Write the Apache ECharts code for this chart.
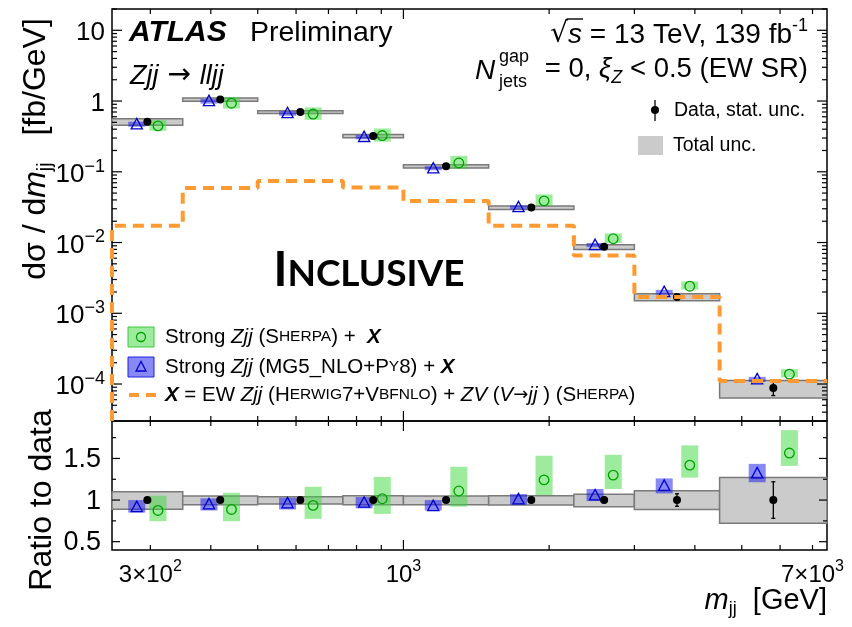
<!DOCTYPE html>
<html>
<head>
<meta charset="utf-8">
<script src="https://cdn.jsdelivr.net/npm/echarts@6.0.0/dist/echarts.min.js"></script>
<style>
  html, body { margin: 0; padding: 0; background: #fff; }
  #chart { width: 852px; height: 627px; }
</style>
</head>
<body>
<div id="chart"></div>
<script>
// ---- measurement: dσ/dm_jj in bins of m_jj ----
// bin edges [GeV]
const binEdges = [250, 350, 500, 750, 1000, 1500, 2250, 3000, 4500, 7500];
// unfolded data [fb/GeV]
const dataValues = [0.51, 1.05, 0.70, 0.32, 0.12, 0.0312, 0.0087, 0.0017, 0.000088];
// relative statistical uncertainty of the data
const statUnc = [0.012, 0.010, 0.010, 0.012, 0.015, 0.020, 0.030, 0.075, 0.22];
// relative total uncertainty (up / down)
const totalUncUp = [0.10, 0.048, 0.040, 0.052, 0.048, 0.052, 0.069, 0.112, 0.27];
const totalUncDown = [0.11, 0.056, 0.048, 0.056, 0.057, 0.060, 0.081, 0.113, 0.28];

// Strong Zjj (Sherpa) + X : ratio to data, central and band
const sherpaRatio = [0.875, 0.887, 0.936, 1.016, 1.109, 1.242, 1.30, 1.42, 1.565];
const sherpaLow = [0.746, 0.746, 0.774, 0.834, 0.92, 1.06, 1.133, 1.27, 1.41];
const sherpaHigh = [1.052, 1.088, 1.16, 1.278, 1.40, 1.532, 1.544, 1.657, 1.84];

// Strong Zjj (MG5_NLO+Py8) + X : ratio to data, central and band
const mg5Ratio = [0.915, 0.948, 0.96, 0.967, 0.927, 1.008, 1.055, 1.17, 1.32];
const mg5Low = [0.85, 0.875, 0.887, 0.90, 0.875, 0.944, 0.988, 1.08, 1.214];
const mg5High = [1.0, 1.02, 1.028, 1.036, 1.0, 1.073, 1.133, 1.26, 1.435];

// X = EW Zjj + ZV prediction [fb/GeV]
const ewValues = [0.0172, 0.059, 0.074, 0.0598, 0.0385, 0.0172, 0.00655, 0.0017, 0.00011];

// ---- axes ----
const X_MIN = 250, X_MAX = 7500;
const Y_MIN = 3e-5, Y_MAX = 20;
const R_MIN = 0.4, R_MAX = 1.95;

const xTickValues = [300, 400, 500, 600, 700, 800, 900, 1000, 2000, 3000, 4000, 5000, 6000, 7000];
const xMajorTicks = [1000];
const xLabelValues = [300, 1000, 7000];
const xLabelTexts = ['{b|3×10}{sup|2}', '{b|10}{sup|3}', '{b|7×10}{sup|3}'];

const yMajorTicks = [1e-4, 1e-3, 1e-2, 1e-1, 1, 10];
const yLabelTexts = ['{b|10}{sup|−4}', '{b|10}{sup|−3}', '{b|10}{sup|−2}', '{b|10}{sup|−1}', '{b|1}', '{b|10}'];

const rTickValues = [0.5, 0.75, 1, 1.25, 1.5, 1.75];
const rMajorTicks = [0.5, 1, 1.5];
const rLabelTexts = ['0.5', '1', '1.5'];

// ticks of the log y axis: 1..9 x 10^n inside the range
const yTickValues = [];
for (let e = -5; e <= 1; e++) {
  for (let k = 1; k <= 9; k++) {
    const v = k * Math.pow(10, e);
    if (v >= Y_MIN && v <= Y_MAX) yTickValues.push(v);
  }
}

const FONT = '"Liberation Sans", Arial, Helvetica, sans-serif';
const SYM_FONT = '"DejaVu Sans", sans-serif';
const GREEN_FILL = 'rgba(60,215,60,0.5)';
const GREEN_LINE = '#00a000';
const BLUE_FILL = 'rgba(20,20,235,0.5)';
const BLUE_LINE = '#0000d0';
const GREY_FILL = '#cbcbcb';
const GREY_LINE = '#7a7a7a';
const ORANGE = '#ff9a33';
const BAND_W = 17;

const logLo = i => Math.log10(binEdges[i]);
const logHi = i => Math.log10(binEdges[i + 1]);
const logCenter = i => (logLo(i) + logHi(i)) / 2;
const logWidth = i => logHi(i) - logLo(i);
// data at the bin centre (log), predictions shifted left/right inside the bin
const xData = i => Math.pow(10, logCenter(i));
const xMg5 = i => Math.pow(10, logCenter(i) - 0.15 * logWidth(i));
const xSherpa = i => Math.pow(10, logCenter(i) + 0.15 * logWidth(i));

const bins = dataValues.map((v, i) => [xData(i), v]);
const ratioBins = dataValues.map((v, i) => [xData(i), 1]);

const supRich = (size) => ({
  b: { fontSize: size, fontFamily: FONT, lineHeight: size + 4, verticalAlign: 'bottom' },
  sup: { fontSize: Math.round(size * 0.68), fontFamily: FONT, lineHeight: Math.round(size * 0.6), verticalAlign: 'top' }
});

// text width helper, used to place the bar of the square root
const measureCtx = document.createElement('canvas').getContext('2d');
function textWidth(str, font) { measureCtx.font = font; return measureCtx.measureText(str).width; }

function ln(x1, y1, x2, y2, w, c) {
  return { type: 'line', shape: { x1, y1, x2, y2 }, style: { stroke: c || '#000', lineWidth: w || 1.2 } };
}

// ---- render helpers ----
function greyBox(i, api, lo, hi) {
  const p0 = api.coord([binEdges[i], hi]);
  const p1 = api.coord([binEdges[i + 1], lo]);
  return {
    type: 'rect',
    shape: { x: p0[0], y: p0[1], width: p1[0] - p0[0], height: p1[1] - p0[1] },
    style: { fill: GREY_FILL, stroke: GREY_LINE, lineWidth: 1.5 }
  };
}

function band(x, lo, hi, api, fill) {
  const p0 = api.coord([x, hi]);
  const p1 = api.coord([x, lo]);
  return {
    type: 'rect',
    shape: { x: p0[0] - BAND_W / 2, y: p0[1], width: BAND_W, height: p1[1] - p0[1] },
    style: { fill: fill, stroke: null }
  };
}

function circleMark(x, y, api) {
  const p = api.coord([x, y]);
  return { type: 'circle', shape: { cx: p[0], cy: p[1], r: 4.8 }, style: { fill: 'none', stroke: GREEN_LINE, lineWidth: 1.3 } };
}

function triMark(x, y, api) {
  const p = api.coord([x, y]);
  return {
    type: 'polygon',
    shape: { points: [[p[0], p[1] - 6], [p[0] - 5.6, p[1] + 4.4], [p[0] + 5.6, p[1] + 4.4]] },
    style: { fill: 'none', stroke: BLUE_LINE, lineWidth: 1.3 }
  };
}

function dataMark(x, y, dy, api) {
  const p = api.coord([x, y]);
  const pu = api.coord([x, y + dy]);
  const pd = api.coord([x, y - dy]);
  const children = [];
  if (pd[1] - pu[1] > 9) {
    children.push(ln(p[0], pu[1], p[0], pd[1], 1.3));
    children.push(ln(p[0] - 2, pu[1], p[0] + 2, pu[1], 1.3));
    children.push(ln(p[0] - 2, pd[1], p[0] + 2, pd[1], 1.3));
  }
  children.push({ type: 'circle', shape: { cx: p[0], cy: p[1], r: 4 }, style: { fill: '#000' } });
  return { type: 'group', children };
}

// ---- EW prediction as a step histogram ----
const ewSteps = [[binEdges[0], Y_MIN]];
ewValues.forEach((v, i) => {
  ewSteps.push([binEdges[i], v]);
  ewSteps.push([binEdges[i + 1], v]);
});

// ---- tick marks ----
function xTicks(yLo, yHi, withLabels) {
  return function (params, api) {
    const v = xTickValues[params.dataIndex];
    const major = xMajorTicks.indexOf(v) >= 0;
    const len = major ? 10 : 5;
    const b = api.coord([v, yLo]);
    const t = api.coord([v, yHi]);
    const children = [ln(b[0], b[1], b[0], b[1] - len, 1.2), ln(t[0], t[1], t[0], t[1] + len, 1.2)];
    const li = xLabelValues.indexOf(v);
    if (withLabels && li >= 0) {
      children.push({
        type: 'text',
        style: {
          x: b[0], y: b[1] + 9, text: xLabelTexts[li], rich: supRich(24),
          fill: '#000', align: 'center', verticalAlign: 'top', textAlign: 'center', textVerticalAlign: 'top'
        }
      });
    }
    return { type: 'group', children };
  };
}

function yTicksMain(params, api) {
  const v = yTickValues[params.dataIndex];
  const mi = yMajorTicks.findIndex(m => Math.abs(m - v) / v < 1e-6);
  const len = mi >= 0 ? 10 : 5;
  const l = api.coord([X_MIN, v]);
  const r = api.coord([X_MAX, v]);
  const children = [ln(l[0], l[1], l[0] + len, l[1], 1.2), ln(r[0], r[1], r[0] - len, r[1], 1.2)];
  if (mi >= 0) {
    children.push({
      type: 'text',
      style: {
        x: l[0] - 7, y: l[1] + 1, text: yLabelTexts[mi], rich: supRich(26),
        fill: '#000', align: 'right', verticalAlign: 'middle', textAlign: 'right', textVerticalAlign: 'middle'
      }
    });
  }
  return { type: 'group', children };
}

function yTicksRatio(params, api) {
  const v = rTickValues[params.dataIndex];
  const mi = rMajorTicks.indexOf(v);
  const len = mi >= 0 ? 8 : 4;
  const l = api.coord([X_MIN, v]);
  const r = api.coord([X_MAX, v]);
  const children = [ln(l[0], l[1], l[0] + len, l[1], 1.2), ln(r[0], r[1], r[0] - len, r[1], 1.2)];
  if (mi >= 0) {
    children.push({
      type: 'text',
      style: {
        x: l[0] - 11, y: l[1] + 1, text: rLabelTexts[mi], fontSize: 27, fontFamily: FONT,
        fill: '#000', align: 'right', verticalAlign: 'middle', textAlign: 'right', textVerticalAlign: 'middle'
      }
    });
  }
  return { type: 'group', children };
}

const hiddenAxis = {
  axisLine: { show: false }, axisTick: { show: false }, axisLabel: { show: false }, splitLine: { show: false }
};

const legendRich = {
  n: { fontSize: 20.5, fontFamily: FONT },
  i: { fontSize: 20.5, fontFamily: FONT, fontStyle: 'italic' },
  s: { fontSize: 15.5, fontFamily: FONT },
  a: { fontSize: 18, fontFamily: SYM_FONT },
  x: { fontSize: 20.5, fontFamily: FONT, fontStyle: 'italic', fontWeight: 'bold' }
};

// position of the bar over "s" in the centre-of-mass energy label
const ENERGY_RIGHT = 808;
const wRoot = textWidth('√', '28px ' + SYM_FONT);
const wS = textWidth('s', 'italic 28px ' + FONT);
const wRest = textWidth(' = 13 TeV, 139 fb', '28px ' + FONT);
const wSup = textWidth('-1', '18px ' + FONT);
const energyLeft = ENERGY_RIGHT - (wRoot + wS + wRest + wSup);

const option = {
  animation: false,
  backgroundColor: '#fff',
  grid: [
    { left: 112, top: 9, width: 715, height: 412, show: true, borderColor: '#000', borderWidth: 1.5, backgroundColor: 'transparent' },
    { left: 112, top: 421, width: 715, height: 129, show: true, borderColor: '#000', borderWidth: 1.5, backgroundColor: 'transparent' }
  ],
  xAxis: [
    Object.assign({ type: 'log', gridIndex: 0, min: X_MIN, max: X_MAX }, hiddenAxis),
    Object.assign({ type: 'log', gridIndex: 1, min: X_MIN, max: X_MAX }, hiddenAxis)
  ],
  yAxis: [
    Object.assign({ type: 'log', gridIndex: 0, min: Y_MIN, max: Y_MAX }, hiddenAxis),
    Object.assign({ type: 'value', gridIndex: 1, min: R_MIN, max: R_MAX }, hiddenAxis)
  ],
  series: [
    // ---------- main panel ----------
    {
      name: 'Total unc.', type: 'custom', xAxisIndex: 0, yAxisIndex: 0, data: bins,
      renderItem: (p, api) => {
        const i = p.dataIndex, d = dataValues[i];
        return greyBox(i, api, d * (1 - totalUncDown[i]), d * (1 + totalUncUp[i]));
      }
    },
    {
      name: 'EW', type: 'line', xAxisIndex: 0, yAxisIndex: 0, data: ewSteps,
      showSymbol: false, symbol: 'none', clip: false,
      lineStyle: { color: ORANGE, width: 4, type: [11, 7] }
    },
    {
      name: 'Sherpa band', type: 'custom', xAxisIndex: 0, yAxisIndex: 0, data: bins,
      renderItem: (p, api) => {
        const i = p.dataIndex, d = dataValues[i];
        return band(xSherpa(i), d * sherpaLow[i], d * sherpaHigh[i], api, GREEN_FILL);
      }
    },
    {
      name: 'MG5 band', type: 'custom', xAxisIndex: 0, yAxisIndex: 0, data: bins,
      renderItem: (p, api) => {
        const i = p.dataIndex, d = dataValues[i];
        return band(xMg5(i), d * mg5Low[i], d * mg5High[i], api, BLUE_FILL);
      }
    },
    {
      name: 'Sherpa', type: 'custom', xAxisIndex: 0, yAxisIndex: 0, data: bins,
      renderItem: (p, api) => circleMark(xSherpa(p.dataIndex), dataValues[p.dataIndex] * sherpaRatio[p.dataIndex], api)
    },
    {
      name: 'MG5', type: 'custom', xAxisIndex: 0, yAxisIndex: 0, data: bins,
      renderItem: (p, api) => triMark(xMg5(p.dataIndex), dataValues[p.dataIndex] * mg5Ratio[p.dataIndex], api)
    },
    {
      name: 'Data', type: 'custom', xAxisIndex: 0, yAxisIndex: 0, data: bins,
      renderItem: (p, api) => {
        const i = p.dataIndex;
        return dataMark(xData(i), dataValues[i], dataValues[i] * statUnc[i], api);
      }
    },
    {
      name: 'x ticks main', type: 'custom', xAxisIndex: 0, yAxisIndex: 0,
      data: xTickValues.map(v => [v, 1]), renderItem: xTicks(Y_MIN, Y_MAX, false)
    },
    {
      name: 'y ticks main', type: 'custom', xAxisIndex: 0, yAxisIndex: 0,
      data: yTickValues.map(v => [1000, v]), renderItem: yTicksMain
    },

    // ---------- ratio panel ----------
    {
      name: 'Total unc. ratio', type: 'custom', xAxisIndex: 1, yAxisIndex: 1, data: ratioBins,
      renderItem: (p, api) => {
        const i = p.dataIndex;
        return greyBox(i, api, 1 - totalUncDown[i], 1 + totalUncUp[i]);
      }
    },
    {
      name: 'Sherpa band ratio', type: 'custom', xAxisIndex: 1, yAxisIndex: 1, data: ratioBins,
      renderItem: (p, api) => band(xSherpa(p.dataIndex), sherpaLow[p.dataIndex], sherpaHigh[p.dataIndex], api, GREEN_FILL)
    },
    {
      name: 'MG5 band ratio', type: 'custom', xAxisIndex: 1, yAxisIndex: 1, data: ratioBins,
      renderItem: (p, api) => band(xMg5(p.dataIndex), mg5Low[p.dataIndex], mg5High[p.dataIndex], api, BLUE_FILL)
    },
    {
      name: 'Sherpa ratio', type: 'custom', xAxisIndex: 1, yAxisIndex: 1, data: ratioBins,
      renderItem: (p, api) => circleMark(xSherpa(p.dataIndex), sherpaRatio[p.dataIndex], api)
    },
    {
      name: 'MG5 ratio', type: 'custom', xAxisIndex: 1, yAxisIndex: 1, data: ratioBins,
      renderItem: (p, api) => triMark(xMg5(p.dataIndex), mg5Ratio[p.dataIndex], api)
    },
    {
      name: 'Data ratio', type: 'custom', xAxisIndex: 1, yAxisIndex: 1, data: ratioBins,
      renderItem: (p, api) => dataMark(xData(p.dataIndex), 1, statUnc[p.dataIndex], api)
    },
    {
      name: 'x ticks ratio', type: 'custom', xAxisIndex: 1, yAxisIndex: 1,
      data: xTickValues.map(v => [v, 1]), renderItem: xTicks(R_MIN, R_MAX, true)
    },
    {
      name: 'y ticks ratio', type: 'custom', xAxisIndex: 1, yAxisIndex: 1,
      data: rTickValues.map(v => [1000, v]), renderItem: yTicksRatio
    }
  ],
  graphic: [
    // experiment label
    { type: 'text', style: { x: 129, y: 33, text: 'ATLAS', font: 'italic bold 30px ' + FONT, fill: '#000', textVerticalAlign: 'middle', verticalAlign: 'middle' } },
    { type: 'text', style: { x: 250, y: 33, text: 'Preliminary', font: '28.5px ' + FONT, fill: '#000', textVerticalAlign: 'middle', verticalAlign: 'middle' } },
    {
      type: 'text', style: {
        x: 130, y: 76, text: '{i|Zjj}{a| → }{i|lljj}',
        rich: {
          i: { fontSize: 27, fontStyle: 'italic', fontFamily: FONT },
          a: { fontSize: 28, fontFamily: SYM_FONT }
        },
        fill: '#000', textVerticalAlign: 'middle', verticalAlign: 'middle'
      }
    },
    {
      type: 'text', style: {
        x: ENERGY_RIGHT, y: 33, text: '{r|√}{i|s}{b| = 13 TeV, 139 fb}{sup|-1}',
        rich: {
          r: { fontSize: 28, fontFamily: SYM_FONT, lineHeight: 32, verticalAlign: 'bottom' },
          b: { fontSize: 28, fontFamily: FONT, lineHeight: 32, verticalAlign: 'bottom' },
          i: { fontSize: 28, fontFamily: FONT, fontStyle: 'italic', lineHeight: 32, verticalAlign: 'bottom' },
          sup: { fontSize: 18, fontFamily: FONT, lineHeight: 17, verticalAlign: 'top' }
        },
        fill: '#000', textAlign: 'right', align: 'right', textVerticalAlign: 'middle', verticalAlign: 'middle'
      }
    },
    {
      type: 'line',
      shape: { x1: energyLeft + wRoot - 1.5, y1: 19, x2: energyLeft + wRoot + wS + 1, y2: 19 },
      style: { stroke: '#000', lineWidth: 1.4 }
    },
    {
      type: 'text', style: {
        x: 808, y: 71, text: '{b|= 0, }{g|ξ}{sub|Z}{b| < 0.5 (EW SR)}',
        rich: {
          b: { fontSize: 27.5, fontFamily: FONT, lineHeight: 31, verticalAlign: 'top' },
          g: { fontSize: 27.5, fontFamily: FONT, fontStyle: 'italic', lineHeight: 31, verticalAlign: 'top' },
          sub: { fontSize: 18, fontFamily: FONT, fontStyle: 'italic', lineHeight: 22, verticalAlign: 'bottom' }
        },
        fill: '#000', textAlign: 'right', align: 'right', textVerticalAlign: 'middle', verticalAlign: 'middle'
      }
    },
    { type: 'text', style: { x: 475, y: 71, text: 'N', font: 'italic 28px ' + FONT, fill: '#000', textVerticalAlign: 'middle', verticalAlign: 'middle' } },
    { type: 'text', style: { x: 499, y: 57, text: 'gap', font: '18px ' + FONT, fill: '#000', textVerticalAlign: 'middle', verticalAlign: 'middle' } },
    { type: 'text', style: { x: 499, y: 82, text: 'jets', font: '18px ' + FONT, fill: '#000', textVerticalAlign: 'middle', verticalAlign: 'middle' } },

    // right legend
    { type: 'line', shape: { x1: 655, y1: 100, x2: 655, y2: 121 }, style: { stroke: '#000', lineWidth: 1.3 } },
    { type: 'circle', shape: { cx: 655, cy: 110, r: 4 }, style: { fill: '#000' } },
    { type: 'text', style: { x: 674, y: 111, text: 'Data, stat. unc.', font: '19.5px ' + FONT, fill: '#000', textVerticalAlign: 'middle', verticalAlign: 'middle' } },
    { type: 'rect', shape: { x: 638, y: 136, width: 25, height: 19 }, style: { fill: GREY_FILL } },
    { type: 'text', style: { x: 673, y: 146, text: 'Total unc.', font: '19.5px ' + FONT, fill: '#000', textVerticalAlign: 'middle', verticalAlign: 'middle' } },

    // region label
    {
      type: 'text', style: {
        x: 369, y: 271, text: '{a|I}{b|NCLUSIVE}',
        rich: {
          a: { fontSize: 47, fontFamily: 'Lato, "Noto Sans", sans-serif', fontWeight: 'bold', lineHeight: 47, verticalAlign: 'bottom' },
          b: { fontSize: 37, fontFamily: 'Lato, "Noto Sans", sans-serif', fontWeight: 'bold', lineHeight: 37, verticalAlign: 'bottom', padding: [0, 0, 2, 0] }
        },
        fill: '#000', textAlign: 'center', align: 'center', textVerticalAlign: 'middle', verticalAlign: 'middle'
      }
    },

    // lower-left legend
    { type: 'rect', shape: { x: 128, y: 327, width: 26, height: 20 }, style: { fill: GREEN_FILL, stroke: '#3cc83c', lineWidth: 1 } },
    { type: 'circle', shape: { cx: 141, cy: 337, r: 4.5 }, style: { fill: 'none', stroke: GREEN_LINE, lineWidth: 1.3 } },
    {
      type: 'text', style: {
        x: 165, y: 337, text: '{n|Strong }{i|Zjj}{n| (S}{s|HERPA}{n|) +  }{x|X}',
        rich: legendRich, fill: '#000', textVerticalAlign: 'middle', verticalAlign: 'middle'
      }
    },
    { type: 'rect', shape: { x: 128, y: 357, width: 26, height: 20 }, style: { fill: BLUE_FILL, stroke: '#2020e0', lineWidth: 1 } },
    { type: 'polygon', shape: { points: [[141, 361.5], [136, 371], [146, 371]] }, style: { fill: 'none', stroke: BLUE_LINE, lineWidth: 1.3 } },
    {
      type: 'text', style: {
        x: 165, y: 367, text: '{n|Strong }{i|Zjj}{n| (MG5_NLO+P}{s|Y}{n|8) + }{x|X}',
        rich: legendRich, fill: '#000', textVerticalAlign: 'middle', verticalAlign: 'middle'
      }
    },
    { type: 'line', shape: { x1: 129, y1: 395, x2: 156, y2: 395 }, style: { stroke: ORANGE, lineWidth: 4, lineDash: [10, 7] } },
    {
      type: 'text', style: {
        x: 165, y: 395, text: '{x|X}{n| = EW }{i|Zjj}{n| (H}{s|ERWIG}{n|7+V}{s|BFNLO}{n|) + }{i|ZV}{n| (}{i|V}{a|→}{i|jj}{n| ) (S}{s|HERPA}{n|)}',
        rich: legendRich, fill: '#000', textVerticalAlign: 'middle', verticalAlign: 'middle'
      }
    },

    // axis titles
    {
      type: 'text', x: 42, y: 149, rotation: Math.PI / 2,
      style: {
        x: 0, y: 0, text: '{b|dσ / d}{i|m}{sub|jj}{b|   [fb/GeV]}',
        rich: {
          b: { fontSize: 32, fontFamily: FONT, lineHeight: 35, verticalAlign: 'top' },
          i: { fontSize: 32, fontFamily: FONT, fontStyle: 'italic', lineHeight: 35, verticalAlign: 'top' },
          sub: { fontSize: 20, fontFamily: FONT, lineHeight: 44, verticalAlign: 'top', padding: [15, 0, 0, 0] }
        },
        fill: '#000', textAlign: 'center', align: 'center', textVerticalAlign: 'middle', verticalAlign: 'middle'
      }
    },
    {
      type: 'text', x: 42, y: 500, rotation: Math.PI / 2,
      style: {
        x: 0, y: 0, text: 'Ratio to data', font: '32px ' + FONT,
        fill: '#000', textAlign: 'center', align: 'center', textVerticalAlign: 'middle', verticalAlign: 'middle'
      }
    },
    {
      type: 'text', style: {
        x: 827, y: 606, text: '{i|m}{sub|jj}{b|  [GeV]}',
        rich: {
          b: { fontSize: 29, fontFamily: FONT, lineHeight: 32, verticalAlign: 'top' },
          i: { fontSize: 29, fontFamily: FONT, fontStyle: 'italic', lineHeight: 32, verticalAlign: 'top' },
          sub: { fontSize: 18, fontFamily: FONT, lineHeight: 40, verticalAlign: 'top', padding: [14, 0, 0, 0] }
        },
        fill: '#000', textAlign: 'right', align: 'right', textVerticalAlign: 'middle', verticalAlign: 'middle'
      }
    }
  ]
};

const chart = echarts.init(document.getElementById('chart'), null, { renderer: 'canvas' });
chart.setOption(option);
</script>
</body>
</html>
